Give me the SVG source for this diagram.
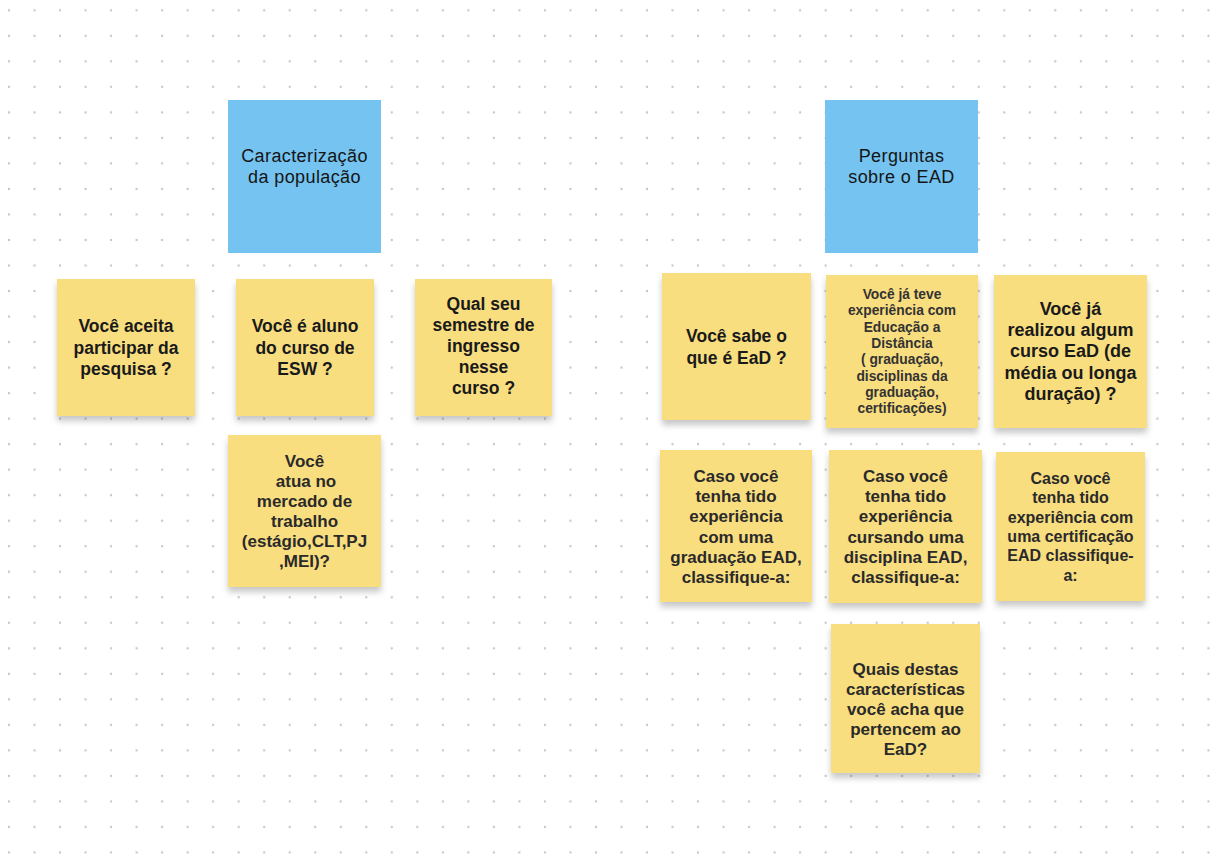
<svg xmlns="http://www.w3.org/2000/svg" width="1211" height="854" viewBox="0 0 1211 854">
<defs>
<pattern id="dots" patternUnits="userSpaceOnUse" x="-3.76" y="-2.46" width="25.52" height="25.52">
<circle cx="12.76" cy="12.76" r="1.15" fill="#c6c6c6"/>
</pattern>
<filter id="shadow" x="-10%" y="-10%" width="120%" height="125%">
<feDropShadow dx="0" dy="5" stdDeviation="3" flood-color="#000" flood-opacity="0.22"/>
</filter>
</defs>
<style>
.note{fill:#f9de80;filter:url(#shadow)}
.head{fill:#74c3f1}
text{font-family:"Liberation Sans",Arial,sans-serif;text-anchor:middle}
.h{font-size:18px;font-weight:normal;fill:#151515;letter-spacing:0.4px}
.t1{font-size:17.5px;font-weight:bold;fill:#1a1a1a}
.t2{font-size:17px;font-weight:bold;fill:#2a2a2a}
.t3{font-size:16px;font-weight:bold;fill:#2a2a2a}
.t4{font-size:13.8px;font-weight:bold;fill:#333}
.t5{font-size:18px;font-weight:bold;fill:#1a1a1a}
</style>
<rect width="1211" height="854" fill="#ffffff"/>
<rect width="1211" height="854" fill="url(#dots)"/>

<g id="h-caracterizacao">
<rect class="head" x="228" y="100" width="153" height="153"/>
<text class="h" x="304.5"><tspan x="304.5" y="162">Caracterização</tspan><tspan x="304.5" y="183">da população</tspan></text>
</g>

<g id="h-perguntas">
<rect class="head" x="825" y="100" width="153" height="153"/>
<text class="h" x="901.5"><tspan x="901.5" y="162">Perguntas</tspan><tspan x="901.5" y="183">sobre o EAD</tspan></text>
</g>

<g id="n-aceita">
<rect class="note" x="57" y="279" width="138" height="137"/>
<text class="t1"><tspan x="126" y="332">Você aceita</tspan><tspan x="126" y="353.5">participar da</tspan><tspan x="126" y="375">pesquisa ?</tspan></text>
</g>

<g id="n-aluno">
<rect class="note" x="236" y="279" width="138" height="137"/>
<text class="t1"><tspan x="305" y="332">Você é aluno</tspan><tspan x="305" y="353.5">do curso de</tspan><tspan x="305" y="375">ESW ?</tspan></text>
</g>

<g id="n-semestre">
<rect class="note" x="415" y="279" width="137" height="137"/>
<text class="t1"><tspan x="483.5" y="309.5">Qual seu</tspan><tspan x="483.5" y="330.7">semestre de</tspan><tspan x="483.5" y="351.9">ingresso</tspan><tspan x="483.5" y="373.1">nesse</tspan><tspan x="483.5" y="394.3">curso ?</tspan></text>
</g>

<g id="n-atua">
<rect class="note" x="228" y="435" width="153" height="152"/>
<text class="t2"><tspan x="304.5" y="467">Você</tspan><tspan x="306" y="487">atua no</tspan><tspan x="304.5" y="507">mercado de</tspan><tspan x="304.5" y="527">trabalho</tspan><tspan x="304.5" y="547">(estágio,CLT,PJ</tspan><tspan x="304.5" y="567">,MEI)?</tspan></text>
</g>

<g id="n-sabe">
<rect class="note" x="662" y="273" width="149" height="147"/>
<text class="t1"><tspan x="736.5" y="342">Você sabe o</tspan><tspan x="736.5" y="364">que é EaD ?</tspan></text>
</g>

<g id="n-teve">
<rect class="note" x="826" y="275" width="152" height="153"/>
<text class="t4"><tspan x="902" y="299">Você já teve</tspan><tspan x="902" y="315.3">experiência com</tspan><tspan x="902" y="331.6">Educação a</tspan><tspan x="902" y="347.9">Distância</tspan><tspan x="902" y="364.2">( graduação,</tspan><tspan x="902" y="380.5">disciplinas da</tspan><tspan x="902" y="396.8">graduação,</tspan><tspan x="902" y="413.1">certificações)</tspan></text>
</g>

<g id="n-realizou">
<rect class="note" x="994" y="275" width="153" height="153"/>
<text class="t5"><tspan x="1070.5" y="315">Você já</tspan><tspan x="1070.5" y="336.2">realizou algum</tspan><tspan x="1070.5" y="357.4">curso EaD (de</tspan><tspan x="1070.5" y="378.6">média ou longa</tspan><tspan x="1070.5" y="399.8">duração) ?</tspan></text>
</g>

<g id="n-graduacao">
<rect class="note" x="660" y="450" width="152" height="152"/>
<text class="t2"><tspan x="736" y="482">Caso você</tspan><tspan x="736" y="502.2">tenha tido</tspan><tspan x="736" y="522.4">experiência</tspan><tspan x="736" y="542.6">com uma</tspan><tspan x="736" y="562.8">graduação EAD,</tspan><tspan x="736" y="583">classifique-a:</tspan></text>
</g>

<g id="n-cursando">
<rect class="note" x="829" y="450" width="153" height="153"/>
<text class="t2"><tspan x="905.5" y="482">Caso você</tspan><tspan x="905.5" y="502.2">tenha tido</tspan><tspan x="905.5" y="522.4">experiência</tspan><tspan x="905.5" y="542.6">cursando uma</tspan><tspan x="905.5" y="562.8">disciplina EAD,</tspan><tspan x="905.5" y="583">classifique-a:</tspan></text>
</g>

<g id="n-certificacao">
<rect class="note" x="996" y="452" width="149" height="149"/>
<text class="t3"><tspan x="1070.5" y="484">Caso você</tspan><tspan x="1070.5" y="503.3">tenha tido</tspan><tspan x="1070.5" y="522.6">experiência com</tspan><tspan x="1070.5" y="541.9">uma certificação</tspan><tspan x="1070.5" y="561.2">EAD classifique-</tspan><tspan x="1070.5" y="580.5">a:</tspan></text>
</g>

<g id="n-quais">
<rect class="note" x="831" y="624" width="149" height="149"/>
<text class="t2"><tspan x="905.5" y="675">Quais destas</tspan><tspan x="905.5" y="695">características</tspan><tspan x="905.5" y="715">você acha que</tspan><tspan x="905.5" y="735">pertencem ao</tspan><tspan x="905.5" y="755">EaD?</tspan></text>
</g>

<g id="connectors"></g>
</svg>
